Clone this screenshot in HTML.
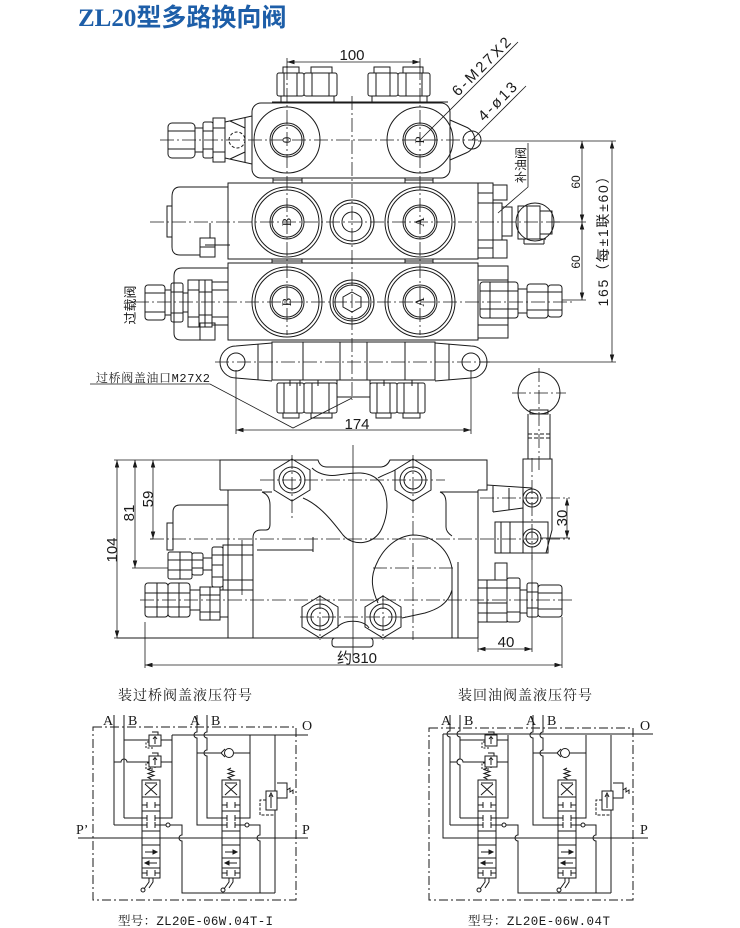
<!DOCTYPE html>
<html><head><meta charset="utf-8"><style>
html,body{margin:0;padding:0;background:#fff;width:740px;height:928px;overflow:hidden}
svg{display:block}
.s{fill:none;stroke:#1a1a1a;stroke-width:1}
.cl{fill:none;stroke:#1a1a1a;stroke-width:0.8;stroke-dasharray:14 3 2 3}
.dd{fill:none;stroke:#1a1a1a;stroke-width:1;stroke-dasharray:9 3 2 3}
.dim{fill:none;stroke:#1a1a1a;stroke-width:0.8}
text{font-family:"Liberation Sans","Noto Sans CJK SC",sans-serif;fill:#1a1a1a}
text.sf,.sf text{font-family:"Liberation Serif","Noto Serif CJK SC",serif}
text.mo{font-family:"Liberation Mono","Noto Serif CJK SC",monospace}
text.cs{font-family:"Liberation Serif","Noto Serif CJK SC",serif}
</style></head><body>
<svg width="740" height="928" viewBox="0 0 740 928" xmlns="http://www.w3.org/2000/svg">
<defs>
<marker id="ar" viewBox="0 0 10 6" refX="10" refY="3" markerWidth="8" markerHeight="4.5" orient="auto-start-reverse" markerUnits="userSpaceOnUse"><path d="M0,0 L10,3 L0,6 z" fill="#1a1a1a"/></marker>
<g id="sp" class="s">
<rect x="0" y="0" width="18" height="98"/>
<path d="M0,17H18 M0,31H18 M0,51H18 M0,65H18 M0,78H18 M0,88H18"/>
<path d="M3,3H15 M3,4 L15,15 M15,4 L3,15"/>
<path d="M0,25H5 M5,22V28 M18,25H13 M13,22V28"/>
<path d="M0,38H5 M5,35V41 M18,38H13 M13,35V41"/>
<path d="M0,45H5 M5,42V48 M18,45H13 M13,42V48"/>
<path d="M3,72H15 M3,83H15 M0,93H5 M5,90V96 M18,93H13 M13,90V96"/>
<path d="M15,72 l-4,-2 v4z M3,83 l4,-2 v4z" fill="#1a1a1a"/>
<path d="M9,-12 l-3,1.5 l6,2 l-6,2 l6,2 l-6,2 l3,1.5 V0"/>
<path d="M7,98 V102 L2,109 M11,98 V102 L7,108"/>
<circle cx="1" cy="110" r="2"/>
</g>
<g id="rv" class="s">
<rect x="0" y="0" width="12" height="11"/>
<path d="M6,9 V2 M4,4 L6,1.5 L8,4 M3,-3 H9 V0"/>
<path d="M0,7 H-3 V13 H5" stroke-dasharray="2 1.5"/>
</g>
</defs>

<!-- TITLE -->
<text x="78" y="26" font-size="25" font-weight="bold" style="fill:#1d5ea8"><tspan style="font-family:'Liberation Serif',serif">ZL20</tspan><tspan style="font-family:'Noto Sans CJK SC',sans-serif">型多路换向阀</tspan></text>

<!-- ================= TOP VIEW ================= -->
<g class="cl">
<line x1="287" y1="66" x2="287" y2="335"/>
<line x1="420" y1="66" x2="420" y2="335"/>
<line x1="352" y1="96" x2="352" y2="400"/>
<line x1="160" y1="140" x2="478" y2="140"/>
<line x1="150" y1="222" x2="560" y2="222"/>
<line x1="135" y1="302" x2="575" y2="302"/>
<line x1="215" y1="362" x2="490" y2="362"/>
</g>
<g class="s">
<rect x="283" y="67" width="16" height="6"/><rect x="311" y="67" width="21" height="6"/>
<rect x="277" y="73" width="27" height="23" rx="2"/><path d="M284,73V96 M297,73V96"/>
<rect x="304" y="73" width="33" height="23" rx="2"/><path d="M312,73V96 M329,73V96"/>
<path d="M281,96V102 M334,96V102 M272,102H448"/>
<rect x="374" y="67" width="16" height="6"/><rect x="403" y="67" width="20" height="6"/>
<rect x="368" y="73" width="30" height="23" rx="2"/><path d="M376,73V96 M390,73V96"/>
<rect x="398" y="73" width="32" height="23" rx="2"/><path d="M406,73V96 M422,73V96"/>
<path d="M372,96V102 M427,96V102"/>
<rect x="252" y="103" width="198" height="75" rx="9"/>
<circle cx="287" cy="140" r="33"/><circle cx="287" cy="140" r="17"/><circle cx="287" cy="140" r="15"/>
<circle cx="420" cy="140" r="33"/><circle cx="420" cy="140" r="17"/><circle cx="420" cy="140" r="15"/>
<path d="M450,120 L466,127 A14,14 0 0 1 466,153 L450,160"/>
<circle cx="472" cy="140" r="9"/>
<path d="M273,178V183 M302,178V183 M405,178V183 M433,178V183 M273,180H302 M405,180H433"/>
<rect x="168" y="123" width="27" height="35" rx="4"/><path d="M168,131H195 M168,149H195"/>
<rect x="195" y="128" width="8" height="24"/>
<rect x="203" y="122" width="10" height="36" rx="2"/><path d="M203,131H213 M203,149H213"/>
<rect x="213" y="118" width="12" height="44"/><path d="M213,128H225 M213,152H225"/>
<path d="M225,122 L252,116 M225,158 L252,164 M230,121 L245,128 M230,159 L245,152 M245,118V162"/>
<circle cx="237" cy="140" r="8" stroke-dasharray="3 2"/>

<rect x="228" y="183" width="250" height="76"/>
<circle cx="287" cy="222" r="35"/><circle cx="287" cy="222" r="32"/><circle cx="287" cy="222" r="17"/><circle cx="287" cy="222" r="15"/>
<circle cx="420" cy="222" r="35"/><circle cx="420" cy="222" r="32"/><circle cx="420" cy="222" r="17"/><circle cx="420" cy="222" r="15"/>
<circle cx="352" cy="222" r="22"/><circle cx="352" cy="222" r="19"/><circle cx="352" cy="222" r="10"/>
<path d="M228,187 H180 Q172,187 172,197 V247 Q172,255 180,255 H200"/>
<rect x="167" y="206" width="5" height="31"/>
<rect x="200" y="238" width="15" height="19"/><path d="M200,247H215 M210,223V238 M205,245H230"/>
<path d="M272,259V263 M302,259V263 M405,259V263 M433,259V263 M272,261H302 M405,261H433"/>
<rect x="478" y="183" width="15" height="75"/><path d="M478,193H493 M478,203H493 M478,240H493 M478,248H493"/>
<rect x="493" y="185" width="14" height="15"/><rect x="493" y="240" width="14" height="18"/>
<rect x="493" y="203" width="9" height="37"/><rect x="502" y="207" width="10" height="29"/>
<circle cx="535" cy="222" r="19"/>
<rect x="518" y="206" width="22" height="33"/><rect x="540" y="211" width="12" height="23"/>
<path d="M527,206V239 M522,239H546 M524,244H544 M524,239V244 M544,239V244"/>

<rect x="228" y="263" width="250" height="77"/>
<circle cx="287" cy="302" r="35"/><circle cx="287" cy="302" r="32"/><circle cx="287" cy="302" r="17"/><circle cx="287" cy="302" r="15"/>
<circle cx="420" cy="302" r="35"/><circle cx="420" cy="302" r="32"/><circle cx="420" cy="302" r="17"/><circle cx="420" cy="302" r="15"/>
<circle cx="352" cy="302" r="22"/><circle cx="352" cy="302" r="19"/><circle cx="352" cy="302" r="17"/>
<polygon points="352,292 361,297 361,307 352,312 343,307 343,297"/>
<path d="M228,268 H182 Q174,268 174,276 V333 Q174,340 181,340 H200"/>
<rect x="145" y="285" width="20" height="35" rx="3"/><path d="M145,293H165 M145,312H165"/>
<rect x="165" y="290" width="6" height="25"/>
<rect x="171" y="283" width="12" height="39" rx="2"/><path d="M171,292H183 M171,313H183"/>
<rect x="183" y="293" width="5" height="19"/>
<rect x="188" y="280" width="11" height="47"/><path d="M188,290H199 M188,317H199"/>
<rect x="199" y="280" width="13" height="47"/><path d="M199,292H212 M199,315H212 M205,280V327"/>
<rect x="212" y="282" width="16" height="43"/><path d="M212,290H228 M212,317H228"/>
<rect x="200" y="323" width="15" height="17"/>
<rect x="478" y="266" width="30" height="72"/><path d="M478,280H508 M478,325H508"/>
<rect x="480" y="282" width="38" height="36" rx="3"/><path d="M480,291H518 M480,309H518 M490,282V318"/>
<rect x="518" y="289" width="9" height="24"/>
<rect x="527" y="284" width="21" height="34" rx="3"/><path d="M527,292H548 M527,310H548"/>
<rect x="548" y="285" width="14" height="32" rx="3"/><path d="M548,292H562 M548,310H562"/>

<rect x="272" y="342" width="163" height="38"/>
<path d="M303,342V380 M340,342V380 M367,342V380 M405,342V380"/>
<path d="M272,343 L236,346 A16,16 0 0 0 236,378 L272,381"/>
<path d="M435,343 L471,346 A16,16 0 0 1 471,378 L435,381"/>
<circle cx="236" cy="362" r="9"/><circle cx="471" cy="362" r="9"/>
<path d="M258,344V380 M449,344V380"/>
<rect x="277" y="383" width="27" height="30" rx="2"/><path d="M284,383V413 M297,383V413"/>
<rect x="304" y="383" width="33" height="30" rx="2"/><path d="M312,383V413 M329,383V413"/>
<rect x="283" y="413" width="16" height="5"/><rect x="311" y="413" width="21" height="5"/>
<rect x="337" y="380" width="33" height="17"/>
<rect x="370" y="383" width="27" height="30" rx="2"/><path d="M377,383V413 M390,383V413"/>
<rect x="397" y="383" width="28" height="30" rx="2"/><path d="M404,383V413 M418,383V413"/>
<rect x="376" y="413" width="15" height="5"/><rect x="403" y="413" width="17" height="5"/>
<path d="M290,380 V386 M300,380 V386 M318,380V386 M384,380V386 M412,380V386"/>
</g>
<g font-size="13" text-anchor="middle">
<text class="sf" x="0" y="0" transform="translate(291,140) rotate(-90)">0</text>
<text class="sf" x="0" y="0" transform="translate(424,140) rotate(-90)">P</text>
<text class="sf" x="0" y="0" transform="translate(291,222) rotate(-90)">B</text>
<text class="sf" x="0" y="0" transform="translate(424,222) rotate(-90)">A</text>
<text class="sf" x="0" y="0" transform="translate(291,302) rotate(-90)">B</text>
<text class="sf" x="0" y="0" transform="translate(424,302) rotate(-90)">A</text>
</g>
<g class="dim">
<path d="M287,58V68 M420,58V68"/>
<line x1="287" y1="62" x2="420" y2="62" marker-start="url(#ar)" marker-end="url(#ar)"/>
<line x1="420" y1="140" x2="518" y2="42"/>
<line x1="472" y1="140" x2="526" y2="86"/>
<path d="M478,141H616 M555,222H586 M562,300H586 M480,362H616"/>
<line x1="582" y1="141" x2="582" y2="222" marker-start="url(#ar)" marker-end="url(#ar)"/>
<line x1="582" y1="222" x2="582" y2="300" marker-start="url(#ar)" marker-end="url(#ar)"/>
<line x1="612" y1="141" x2="612" y2="362" marker-start="url(#ar)" marker-end="url(#ar)"/>
<path d="M528,143V187 L498,213"/>
<path d="M236,370V434 M471,370V434"/>
<line x1="236" y1="430" x2="471" y2="430" marker-start="url(#ar)" marker-end="url(#ar)"/>
<path d="M90,384H210 L293,428 L352,398"/>
</g>
<text x="352" y="60" font-size="15" text-anchor="middle">100</text>
<text x="357" y="429" font-size="15" text-anchor="middle">174</text>
<text x="458" y="97" font-size="15" transform="rotate(-45 458 97)" textLength="76">6-M27X2</text>
<text x="484" y="122" font-size="15" transform="rotate(-45 484 122)" textLength="48">4-ø13</text>
<text x="0" y="0" font-size="12" transform="translate(580,182) rotate(-90)" text-anchor="middle">60</text>
<text x="0" y="0" font-size="12" transform="translate(580,262) rotate(-90)" text-anchor="middle">60</text>
<text x="0" y="0" font-size="14" transform="translate(608,238) rotate(-90)" text-anchor="middle" textLength="137">165（每±1联±60）</text>
<text x="0" y="0" font-size="12" transform="translate(525,165) rotate(-90)" text-anchor="middle">补油阀</text>
<text x="0" y="0" font-size="13" transform="translate(135,305) rotate(-90)" text-anchor="middle">过载阀</text>
<text x="96" y="382" font-size="12" class="mo" textLength="114">过桥阀盖油口M27X2</text>

<!-- ================= SIDE VIEW ================= -->
<g class="cl">
<line x1="353" y1="445" x2="353" y2="660" style="stroke-dasharray:none"/>
<line x1="292" y1="455" x2="292" y2="520"/>
<line x1="413" y1="455" x2="413" y2="640"/>
<line x1="260" y1="480" x2="445" y2="480"/>
<line x1="300" y1="617" x2="410" y2="617"/>
<line x1="373" y1="568" x2="455" y2="568"/>
<line x1="150" y1="539" x2="570" y2="539"/>
<line x1="140" y1="600" x2="572" y2="600"/>
<line x1="480" y1="498" x2="570" y2="498"/>
<line x1="532" y1="458" x2="532" y2="560"/>
<line x1="539" y1="368" x2="539" y2="470"/>
<line x1="512" y1="393" x2="566" y2="393"/>
<line x1="320" y1="595" x2="320" y2="640"/>
<line x1="383" y1="595" x2="383" y2="640"/>
<line x1="242" y1="540" x2="242" y2="595"/>
</g>
<g class="s">
<path d="M220,490 V460 H318 Q320,467 327,467 H380 Q387,467 390,460 H487 V490 H478"/>
<path d="M220,490 H262 M228,490 V638 M478,490 V580 M478,622 V638"/>
<path d="M117,638 H478"/>
<path d="M452,568 V638 M458,562 V638"/>
<path d="M253,638 V538 Q253,530 261,530 H266 Q270,530 270,524 V505 Q270,495 262,492"/>
<path d="M440,492 Q446,494 446,503 V527 Q446,532 452,536"/>
<path d="M262,492 H272 M440,492 H478"/>
<path d="M303,498 C320,505 333,522 343,535 C353,547 375,545 382,528 C390,510 388,490 378,480 C368,470 352,473 338,475 C325,477 316,472 312,468"/>
<path d="M378,478 C385,474 392,472 395,470"/>
<path d="M378,603 C372,590 370,578 376,565 C383,548 397,536 413,535 C432,535 448,548 452,568"/>
<path d="M452,590 C448,605 435,610 425,613 L402,618"/>
<path d="M337,628 C342,619 364,619 369,628"/>
<rect x="332" y="638" width="41" height="9" rx="3"/>
<path d="M257,550 H313 M313,537 V552"/>
<polygon points="292,459 310,470 310,490 292,501 274,490 274,470"/><circle cx="292" cy="480" r="13"/><circle cx="292" cy="480" r="9"/>
<polygon points="413,459 431,470 431,490 413,501 395,490 395,470"/><circle cx="413" cy="480" r="13"/><circle cx="413" cy="480" r="9"/>
<polygon points="320,596 338,607 338,627 320,638 302,627 302,607"/><circle cx="320" cy="617" r="13"/><circle cx="320" cy="617" r="9"/>
<polygon points="383,596 401,607 401,627 383,638 365,627 365,607"/><circle cx="383" cy="617" r="13"/><circle cx="383" cy="617" r="9"/>
<path d="M228,505 H180 Q173,505 173,512 V550"/>
<rect x="167" y="523" width="6" height="27"/>
<rect x="168" y="552" width="24" height="27" rx="2"/><path d="M168,560H192 M168,570H192 M180,552V579"/>
<rect x="192" y="553" width="11" height="22" rx="2"/><path d="M192,560H203 M192,568H203"/>
<rect x="203" y="558" width="9" height="12"/>
<rect x="212" y="547" width="11" height="40" rx="2"/><path d="M212,555H223 M212,565H223 M212,577H223"/>
<rect x="223" y="545" width="30" height="45"/><path d="M223,555H253 M223,580H253 M242,545V590"/>
<rect x="145" y="583" width="23" height="34" rx="3"/><path d="M145,593H168 M145,607H168 M157,583V617"/>
<rect x="168" y="583" width="22" height="34" rx="3"/><path d="M168,593H190 M168,607H190 M179,583V617"/>
<rect x="190" y="590" width="10" height="20"/>
<rect x="200" y="587" width="20" height="33"/><path d="M200,595H220 M200,612H220 M210,587V620"/>
<rect x="220" y="590" width="8" height="27"/>
<rect x="495" y="563" width="12" height="17"/>
<rect x="478" y="580" width="29" height="42"/><path d="M478,588H507 M478,603H507 M478,613H507 M487,580V622"/>
<rect x="507" y="578" width="13" height="44" rx="2"/><path d="M507,588H520 M507,612H520"/>
<rect x="520" y="590" width="7" height="23"/>
<rect x="527" y="583" width="11" height="34" rx="2"/><path d="M527,592H538 M527,608H538"/>
<rect x="538" y="585" width="24" height="32" rx="3"/><path d="M538,593H562 M538,609H562"/>
<circle cx="539" cy="393" r="21"/>
<rect x="530" y="410" width="18" height="4"/>
<path d="M528,414 V459 M550,414 V459"/>
<path d="M528,434 H550 M528,438 H550" stroke-dasharray="4 2"/>
<path d="M523,459 H552 V530 L546,553 H523 Z"/>
<path d="M487,485 L532,488 M493,512 L523,508 M493,485 V512 M509,488 V510"/>
<circle cx="532" cy="498" r="9"/><circle cx="532" cy="498" r="6"/>
<circle cx="532" cy="538" r="9"/><circle cx="532" cy="538" r="6"/>
<rect x="495" y="522" width="53" height="31"/><path d="M510,522V553 M501,522V553"/>
</g>
<g class="dim">
<path d="M114,460H220 M114,638H117 M132,568H168 M150,539H153"/>
<line x1="117" y1="460" x2="117" y2="638" marker-start="url(#ar)" marker-end="url(#ar)"/>
<line x1="135" y1="460" x2="135" y2="568" marker-start="url(#ar)" marker-end="url(#ar)"/>
<line x1="153" y1="460" x2="153" y2="539" marker-start="url(#ar)" marker-end="url(#ar)"/>
<path d="M540,538H570"/>
<line x1="567" y1="498" x2="567" y2="538" marker-start="url(#ar)" marker-end="url(#ar)"/>
<path d="M478,622V652 M532,555V652 M145,622V668 M562,617V668"/>
<line x1="478" y1="649" x2="532" y2="649" marker-start="url(#ar)" marker-end="url(#ar)"/>
<line x1="145" y1="665" x2="562" y2="665" marker-start="url(#ar)" marker-end="url(#ar)"/>
</g>
<text x="0" y="0" font-size="15" transform="translate(117,550) rotate(-90)" text-anchor="middle">104</text>
<text x="0" y="0" font-size="15" transform="translate(134,513) rotate(-90)" text-anchor="middle">81</text>
<text x="0" y="0" font-size="15" transform="translate(153,499) rotate(-90)" text-anchor="middle">59</text>
<text x="0" y="0" font-size="15" transform="translate(567,518) rotate(-90)" text-anchor="middle">30</text>
<text x="506" y="647" font-size="15" text-anchor="middle">40</text>
<text x="357" y="663" font-size="15" text-anchor="middle">约310</text>

<!-- ================= SCHEMATICS ================= -->
<text class="cs" x="118" y="700" font-size="14" letter-spacing="1">装过桥阀盖液压符号</text>
<text class="cs" x="458" y="700" font-size="14" letter-spacing="1">装回油阀盖液压符号</text>
<text x="118" y="925" font-size="12.5" class="mo" textLength="155">型号：ZL20E-06W.04T-I</text>
<text x="468" y="925" font-size="12.5" class="mo" textLength="142">型号：ZL20E-06W.04T</text>

<g id="common">
<g class="s">
<path d="M124,740 H149 M161,740 H172"/>
<path d="M114,762 H121 A3,3 0 0 1 127,762 H149 M161,762 H172"/>
<path d="M172,735 V818 H160"/>
<path d="M155,767 V768"/>
<use href="#rv" x="149" y="735"/>
<use href="#rv" x="149" y="756"/>
<use href="#sp" x="142" y="780"/>
<path d="M114,825 H142 M124,818 H142"/>
<path d="M160,825 H166 M170,825 H182 V835 A3,3 0 0 0 182,841 V893 H275"/>
<circle cx="168" cy="825" r="2"/>
<path d="M197,715 V732 A3,3 0 0 0 197,738 V825 H222"/>
<path d="M207,715 V732 A3,3 0 0 0 207,738 V750 A3,3 0 0 0 207,756 V818 H222"/>
<path d="M197,753 H221 M234,753 H250"/>
<circle cx="229" cy="753" r="4.5"/>
<path d="M221,753 L225,749 M221,753 L225,757"/>
<path d="M250,735 V818 H240"/>
<use href="#sp" x="222" y="780"/>
<path d="M240,825 H245 M249,825 H260 V835 A3,3 0 0 0 260,841 V893"/>
<circle cx="247" cy="825" r="2"/>
<path d="M275,735 V791 M275,810 V893"/>
<rect x="266" y="791" width="11" height="19"/>
<path d="M271,808 V795 M269,797 L271,793 L273,797"/>
<path d="M277,783 H287 V798 H277 M287,790 l3,-2 l0,4 l3,-2 l0,4"/>
<path d="M266,800 H260 V815 H275" stroke-dasharray="3 1.5"/>
</g>
</g>
<use href="#common" x="336" y="0"/>

<g class="s">
<path d="M114,715 V825 M124,715 V818"/>
<path d="M172,735 H308"/>
<path d="M78,838 H308"/>
</g>
<rect x="93" y="727" width="203" height="173" class="dd"/>
<g class="s">
<path d="M450,715 V731 A3,3 0 0 0 450,737 V825"/>
<path d="M460,715 V731 A3,3 0 0 0 460,737 V759 A3,3 0 0 0 460,765 V818"/>
<path d="M443,734 H653 M443,734 V838 H648"/>
</g>
<rect x="429" y="728" width="204" height="172" class="dd"/>

<g font-size="14">
<text class="sf" x="103" y="725">A</text><text class="sf" x="128" y="725">B</text>
<text class="sf" x="190" y="725">A</text><text class="sf" x="211" y="725">B</text>
<text class="sf" x="302" y="730">O</text><text class="sf" x="76" y="834">P’</text><text class="sf" x="302" y="834">P</text>
<text class="sf" x="441" y="725">A</text><text class="sf" x="464" y="725">B</text>
<text class="sf" x="526" y="725">A</text><text class="sf" x="547" y="725">B</text>
<text class="sf" x="640" y="730">O</text><text class="sf" x="640" y="834">P</text>
</g>
</svg>
</body></html>
